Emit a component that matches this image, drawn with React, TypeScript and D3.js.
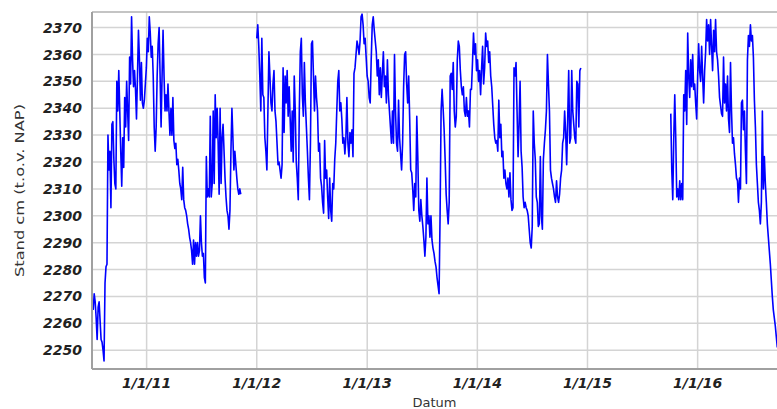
import { useRef, useEffect } from 'react';
import * as d3 from 'd3';

const W = 777;
const H = 409;
const MARGIN = { top: 12, right: 0, bottom: 40, left: 92 };

const X_START = '2010-07-04';
const X_END = '2016-09-20';
const Y_MIN = 2243;
const Y_MAX = 2375.8;
const Y_TICKS = [2250, 2260, 2270, 2280, 2290, 2300, 2310, 2320, 2330, 2340, 2350, 2360, 2370];
const X_TICKS = ['2011-01-01', '2012-01-01', '2013-01-01', '2014-01-01', '2015-01-01', '2016-01-01'];

// measuring runs: start date, end date, readings evenly spread in between
const run1Start = '2010-07-08';
const run1End = '2011-11-09';
const run1 = [
  2265, 2271, 2268, 2262, 2254, 2266, 2268, 2261, 2254, 2253, 2250, 2246, 2275, 2281, 2282, 2330,
  2317, 2324, 2303, 2334, 2335, 2321, 2312, 2310, 2350, 2339, 2354, 2339, 2324, 2311, 2329, 2318,
  2344, 2333, 2350, 2339, 2328, 2359, 2349, 2374, 2358, 2348, 2354, 2347, 2336, 2352, 2369, 2358,
  2343, 2357, 2342, 2340, 2343, 2349, 2355, 2366, 2361, 2374, 2368, 2359, 2363, 2352, 2333, 2324,
  2333, 2352, 2364, 2370, 2352, 2333, 2352, 2369, 2352, 2339, 2345, 2339, 2349, 2339, 2330,
  2340, 2330, 2344, 2328, 2325, 2327, 2319, 2321, 2317, 2312, 2310, 2306, 2318, 2306, 2303, 2302,
  2300, 2297, 2295, 2292, 2290, 2287, 2282, 2291, 2282, 2290, 2285, 2290, 2285, 2287, 2300, 2290,
  2285, 2286, 2277, 2275, 2322, 2307, 2310, 2307, 2337, 2307, 2312, 2339, 2312, 2345, 2329, 2340,
  2327, 2308, 2340, 2312, 2329, 2334, 2324, 2314, 2307, 2302, 2300, 2295, 2302, 2324, 2340, 2329,
  2317, 2324, 2319, 2314, 2310, 2308, 2310, 2308,
];

const run2Start = '2012-01-01';
const run2End = '2014-12-10';
const run2 = [
  2366, 2371, 2363, 2352, 2339, 2366, 2345, 2344, 2329, 2324, 2317, 2339, 2361, 2352, 2342, 2339,
  2349, 2354, 2339, 2335, 2327, 2319, 2320, 2317, 2314, 2319, 2355, 2331, 2352, 2342, 2354, 2337,
  2348, 2336, 2324, 2339, 2320, 2352, 2339, 2320, 2314, 2306, 2339, 2361, 2366, 2345, 2337, 2357,
  2342, 2333, 2324, 2314, 2306, 2327, 2364, 2365, 2352, 2339, 2352, 2344, 2339, 2324, 2327, 2314,
  2311, 2305, 2301, 2328, 2314, 2317, 2307, 2299, 2314, 2302, 2298, 2312, 2310, 2321, 2327, 2339,
  2350, 2354, 2339, 2342, 2336, 2327, 2329, 2323, 2329, 2344, 2327, 2322, 2331, 2327, 2332, 2322,
  2353, 2355, 2360, 2365, 2363, 2360, 2365, 2374, 2375, 2371, 2364, 2366, 2359, 2352, 2350, 2344,
  2342,
  2358, 2371, 2374, 2369, 2365, 2361, 2352, 2358, 2345, 2355, 2344, 2353, 2361, 2348, 2352, 2342,
  2358, 2345, 2339, 2333, 2327, 2339, 2327, 2360, 2339, 2327, 2324, 2343, 2329, 2323, 2317, 2327,
  2348, 2360, 2361, 2349, 2342, 2352, 2336, 2317, 2316, 2310, 2302, 2312, 2307, 2337, 2322, 2302,
  2298, 2306, 2300, 2296, 2291, 2285, 2292, 2314, 2297, 2300, 2292, 2300, 2291, 2288, 2286, 2283,
  2281, 2277, 2274, 2271, 2300, 2339, 2347, 2340, 2332, 2321, 2308, 2302, 2297, 2305, 2352, 2353,
  2347, 2357, 2339, 2333, 2337, 2358,
  2365, 2363, 2354, 2348, 2345, 2348, 2339, 2337, 2344, 2337, 2339, 2333, 2347, 2347, 2357, 2368,
  2360, 2364, 2354, 2358, 2350, 2354, 2345, 2355, 2363, 2349, 2355, 2368, 2363, 2365, 2357, 2361,
  2352, 2348, 2341, 2334, 2329, 2327, 2328, 2324, 2343, 2329, 2334, 2322, 2324, 2314, 2317, 2312,
  2310, 2314, 2307, 2316, 2306, 2302, 2303, 2355, 2352, 2357, 2339, 2322, 2334, 2350, 2324, 2318,
  2307, 2303, 2305, 2303, 2302, 2300, 2295, 2290, 2288, 2296, 2339, 2327, 2321, 2307, 2305, 2296,
  2297, 2322, 2300, 2295, 2321, 2327, 2332, 2339, 2360, 2349, 2339, 2317, 2314, 2312, 2310, 2307,
  2305, 2313, 2307, 2305, 2308, 2314, 2317, 2327, 2329, 2339, 2331, 2319, 2336, 2354, 2327, 2329,
  2354, 2339, 2334, 2329, 2327, 2350, 2349, 2333, 2354, 2355,
];

const run3Start = '2015-10-04';
const run3End = '2016-09-21';
const run3 = [
  2338, 2317, 2306, 2329, 2345, 2329, 2307, 2310, 2306, 2313, 2306, 2312, 2306, 2345, 2339, 2354,
  2334, 2368, 2352, 2344, 2358, 2348, 2360, 2347, 2349, 2342, 2336, 2352, 2364, 2354, 2350, 2363,
  2352, 2342, 2354, 2361, 2373, 2365, 2371, 2360, 2373, 2363, 2354, 2369, 2361, 2373, 2361, 2358,
  2352, 2344, 2341, 2338, 2337, 2359, 2342, 2349, 2339, 2352, 2336, 2331, 2357, 2339, 2327, 2329,
  2323, 2319, 2314, 2313, 2305, 2314, 2310, 2342, 2343, 2332, 2339, 2324, 2312, 2358, 2367, 2363,
  2371, 2365, 2367, 2359, 2343, 2333, 2319, 2312, 2305, 2302, 2297, 2305, 2339, 2310, 2322, 2312,
  2305, 2297, 2292, 2287, 2282, 2276, 2270, 2265, 2262, 2259, 2255, 2251,
];

const RUNS = [
  { start: run1Start, end: run1End, values: run1 },
  { start: run2Start, end: run2End, values: run2 },
  { start: run3Start, end: run3End, values: run3 },
];

const parse = d3.timeParse('%Y-%m-%d');

function spread(start, end, values) {
  const t0 = +parse(start);
  const t1 = +parse(end);
  const n = values.length;
  return values.map((v, i) => ({ date: new Date(t0 + ((t1 - t0) * i) / (n - 1)), value: v }));
}

export default function App() {
  const svgRef = useRef(null);

  useEffect(() => {
    const svg = d3.select(svgRef.current);
    svg.selectAll('*').remove();

    const x = d3.scaleTime().domain([parse(X_START), parse(X_END)]).range([MARGIN.left, W - MARGIN.right]);
    const y = d3.scaleLinear().domain([Y_MIN, Y_MAX]).range([H - MARGIN.bottom, MARGIN.top]);
    const plotBottom = H - MARGIN.bottom;

    svg.append('rect')
      .attr('x', 0).attr('y', 0).attr('width', W).attr('height', H).attr('fill', '#fff');

    const grid = svg.append('g').attr('stroke', '#d4d4d4').attr('stroke-width', 1.5);
    Y_TICKS.forEach(t => {
      grid.append('line').attr('x1', MARGIN.left).attr('x2', W).attr('y1', y(t)).attr('y2', y(t));
    });
    X_TICKS.forEach(t => {
      const d = parse(t);
      grid.append('line').attr('x1', x(d)).attr('x2', x(d)).attr('y1', MARGIN.top).attr('y2', plotBottom);
    });

    const clip = svg.append('clipPath').attr('id', 'plot-clip');
    clip.append('rect')
      .attr('x', MARGIN.left).attr('y', MARGIN.top)
      .attr('width', W - MARGIN.left).attr('height', plotBottom - MARGIN.top);

    const line = d3.line().x(d => x(d.date)).y(d => y(d.value));
    const lines = svg.append('g').attr('clip-path', 'url(#plot-clip)');
    RUNS.forEach(r => {
      lines.append('path')
        .datum(spread(r.start, r.end, r.values))
        .attr('d', line)
        .attr('fill', 'none')
        .attr('stroke', '#0000ff')
        .attr('stroke-width', 1.6)
        .attr('stroke-linejoin', 'round');
    });

    // frame: top edge light, left and bottom axis lines darker
    svg.append('line')
      .attr('x1', MARGIN.left).attr('x2', W).attr('y1', MARGIN.top).attr('y2', MARGIN.top)
      .attr('stroke', '#b0b0b0').attr('stroke-width', 1.5);
    svg.append('line')
      .attr('x1', MARGIN.left).attr('x2', MARGIN.left).attr('y1', MARGIN.top).attr('y2', plotBottom)
      .attr('stroke', '#a0a0a0').attr('stroke-width', 2);
    svg.append('line')
      .attr('x1', MARGIN.left).attr('x2', W).attr('y1', plotBottom).attr('y2', plotBottom)
      .attr('stroke', '#a0a0a0').attr('stroke-width', 2);

    const tickFont = (sel) => sel
      .attr('fill', '#222')
      .style('font-family', '"DejaVu Sans", sans-serif')
      .style('font-size', '14px')
      .style('font-weight', 'bold')
      .style('font-style', 'italic');

    Y_TICKS.forEach(t => {
      svg.append('text')
        .attr('x', 82).attr('y', y(t)).attr('dy', '0.36em')
        .attr('text-anchor', 'end')
        .text(t)
        .call(tickFont);
    });

    const fmt = d3.timeFormat('%-m/%-d/%y');
    X_TICKS.forEach(t => {
      const d = parse(t);
      svg.append('text')
        .attr('x', x(d)).attr('y', 388)
        .attr('text-anchor', 'middle')
        .text(fmt(d))
        .call(tickFont);
    });

    svg.append('text')
      .attr('x', (MARGIN.left + W) / 2).attr('y', 407)
      .attr('text-anchor', 'middle')
      .attr('fill', '#333')
      .style('font-family', '"DejaVu Sans", sans-serif')
      .style('font-size', '13px')
      .text('Datum');

    svg.append('text')
      .attr('transform', `translate(24,${(MARGIN.top + plotBottom) / 2}) rotate(-90)`)
      .attr('text-anchor', 'middle')
      .attr('fill', '#333')
      .attr('textLength', 173)
      .attr('lengthAdjust', 'spacingAndGlyphs')
      .style('font-family', '"DejaVu Sans", sans-serif')
      .style('font-size', '13px')
      .text('Stand cm (t.o.v. NAP)');
  }, []);

  return (
    <>
      <style>{'body{margin:0}'}</style>
      <svg ref={svgRef} width={W} height={H} style={{ display: 'block' }} />
    </>
  );
}
